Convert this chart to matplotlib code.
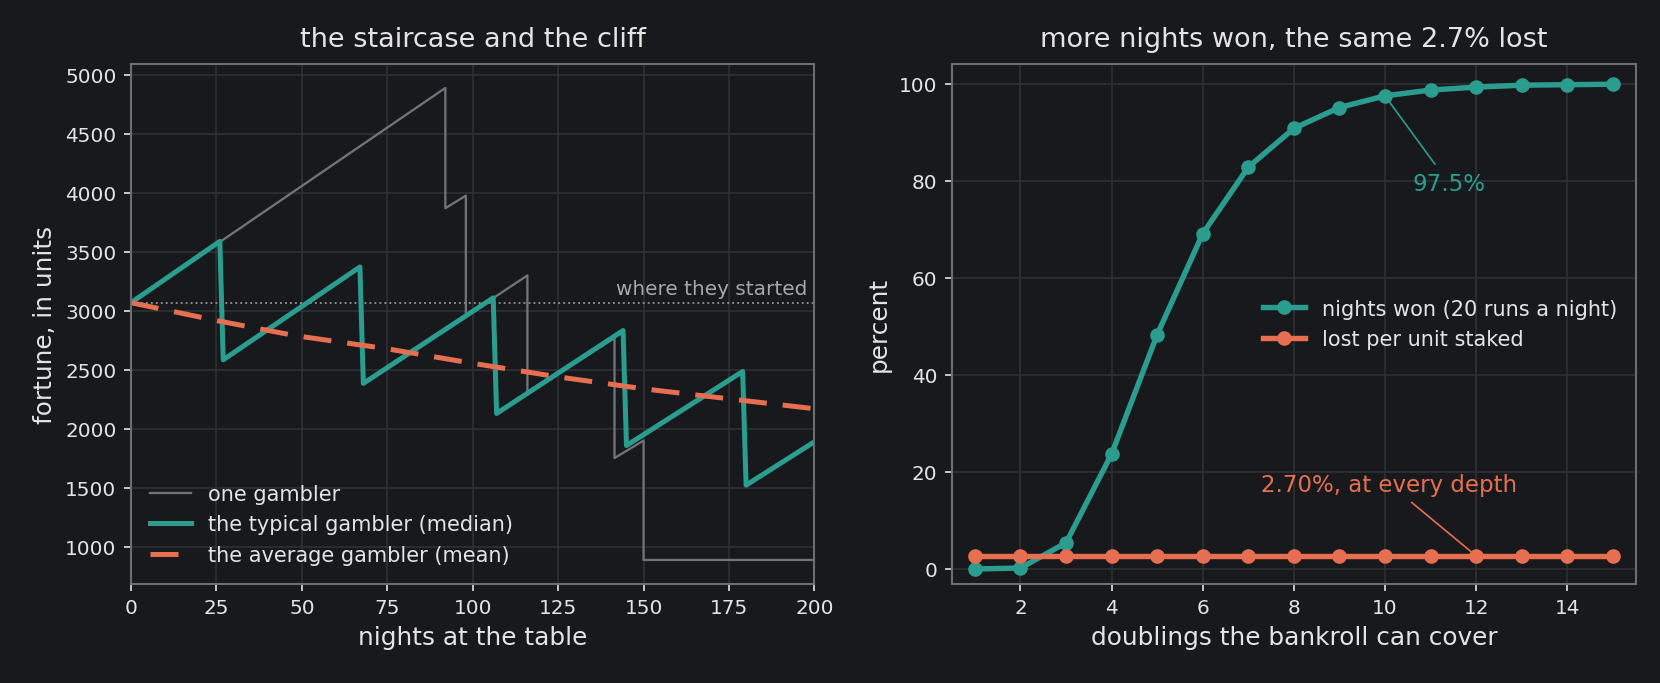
import matplotlib.pyplot as plt

BG = '#18191c'
TEAL = '#2a9d8f'
ORANGE = '#e76f51'
GREY = '#707379'
TEXT = '#e4e4e4'
GRID = '#2e3035'
SPINE = '#6b6e74'

# left panel: fortune over 200 nights (vertices)
start_fortune = 3069

one_nights = [0, 92, 92, 98, 98, 116, 116, 141.5, 141.5, 150, 150, 200]
one_fortune = [3069, 4890, 3870, 3977, 2955, 3300, 2300, 2770, 1752, 1900, 888, 888]

median_nights = [0, 26, 27, 67, 68, 106, 107, 144, 145, 179, 180, 200]
median_fortune = [3069, 3589, 2585, 3372, 2385, 3110, 2130, 2833, 1858, 2486, 1522, 1890]

mean_nights = [0, 25, 48, 75, 100, 125, 137, 150, 175, 200]
mean_fortune = [3069, 2918, 2790, 2678, 2555, 2440, 2392, 2339, 2254, 2170]

# right panel: depth of the bankroll
doublings = [1, 2, 3, 4, 5, 6, 7, 8, 9, 10, 11, 12, 13, 14, 15]
nights_won = [0.0, 0.2, 5.4, 23.7, 48.3, 69.1, 82.8, 90.8, 95.1, 97.5, 98.7, 99.3, 99.7, 99.8, 99.9]
lost_per_unit = [2.70, 2.70, 2.70, 2.70, 2.70, 2.70, 2.70, 2.70, 2.70, 2.70, 2.70, 2.70, 2.70, 2.70, 2.70]

plt.rcParams['font.family'] = ['DejaVu Sans']
plt.rcParams['text.color'] = TEXT
plt.rcParams['axes.labelcolor'] = TEXT
plt.rcParams['xtick.color'] = TEXT
plt.rcParams['ytick.color'] = TEXT

fig, (ax1, ax2) = plt.subplots(1, 2, figsize=(1660 / 150, 684 / 150), dpi=150)
fig.patch.set_facecolor(BG)
fig.subplots_adjust(left=0.0789, right=0.9853, bottom=0.1454, top=0.9045, wspace=0.2015)

for ax in (ax1, ax2):
    ax.set_facecolor(BG)
    for s in ax.spines.values():
        s.set_color(SPINE)
        s.set_linewidth(1.0)
    ax.grid(True, color=GRID, linewidth=0.8)
    ax.set_axisbelow(True)
    ax.tick_params(labelsize=9.6, colors=TEXT)

# left
ax1.plot(one_nights, one_fortune, color=GREY, lw=1.1, label='one gambler')
ax1.plot(median_nights, median_fortune, color=TEAL, lw=2.4, label='the typical gambler (median)')
ax1.plot(mean_nights, mean_fortune, color=ORANGE, lw=2.4, dashes=(5.6, 3.2),
         label='the average gambler (mean)')
ax1.axhline(start_fortune, color='#8e9096', lw=0.9, ls=':', zorder=1)
ax1.text(198, start_fortune + 40, 'where they started', ha='right', va='bottom',
         fontsize=9.6, color='#a8a8a8')
ax1.set_xlim(0, 200)
ax1.set_xticks([0, 25, 50, 75, 100, 125, 150, 175, 200])
ax1.set_xlabel('nights at the table', fontsize=11.9)
ax1.set_ylabel('fortune, in units', fontsize=11.9)
ax1.set_title('the staircase and the cliff', fontsize=13, color=TEXT, pad=9)
leg1 = ax1.legend(loc='lower left', frameon=False, fontsize=10)
for t in leg1.get_texts():
    t.set_color(TEXT)

# right
ax2.plot(doublings, nights_won, color=TEAL, lw=2.6, marker='o', ms=6,
         label='nights won (20 runs a night)')
ax2.plot(doublings, lost_per_unit, color=ORANGE, lw=2.6, marker='o', ms=6,
         label='lost per unit staked')
ax2.annotate('97.5%', xy=(10, 97.5), xytext=(10.6, 79.5), color=TEAL, fontsize=11,
             ha='left', va='center', arrowprops=dict(arrowstyle='-', color=TEAL, lw=0.8))
ax2.annotate('2.70%, at every depth', xy=(12, 2.7), xytext=(10.1, 17.5), color=ORANGE,
             fontsize=11, ha='center', va='center',
             arrowprops=dict(arrowstyle='-', color=ORANGE, lw=0.8))
ax2.set_xlim(0.5, 15.5)
ax2.set_ylim(-3, 104)
ax2.set_xticks([2, 4, 6, 8, 10, 12, 14])
ax2.set_xlabel('doublings the bankroll can cover', fontsize=11.9)
ax2.set_ylabel('percent', fontsize=11.9)
ax2.set_title('more nights won, the same 2.7% lost', fontsize=13, color=TEXT, pad=9)
leg2 = ax2.legend(loc='center right', frameon=False, fontsize=10)
for t in leg2.get_texts():
    t.set_color(TEXT)

fig.savefig('out.png', dpi=150, facecolor=BG)
